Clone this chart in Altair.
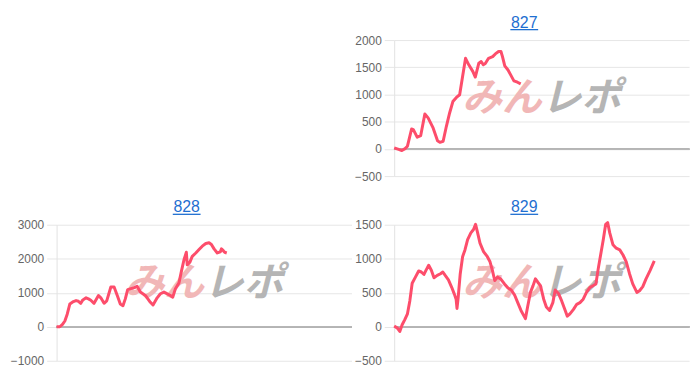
import altair as alt
import pandas as pd

# ---- data ----
x827 = [0, 1.5, 2.6, 3.7, 4.5, 5.9, 6.5, 7.8, 9.0, 10.4, 11.5, 13.2, 14.7, 15.5, 16.6, 17.7,
        18.8, 19.9, 21.1, 22.2, 23.1, 24.2, 25.3, 26.7, 27.5, 28.7, 29.5, 30.2, 30.9, 32.0,
        33.4, 34.3, 35.4, 36.2, 36.7, 37.5, 38.6, 39.5, 40.6, 41.8, 42.9]
y827 = [20, -10, -30, 5, 50, 365, 355, 215, 245, 640, 570, 385, 150, 120, 140, 415,
        660, 870, 945, 995, 1300, 1665, 1545, 1420, 1320, 1575, 1605, 1545, 1570, 1665,
        1695, 1745, 1790, 1790, 1700, 1525, 1450, 1360, 1250, 1225, 1195]

x828 = [0, 1.1, 2.0, 2.8, 3.6, 4.5, 5.7, 6.6, 7.4, 8.2, 8.9, 10.0, 10.8, 11.6, 12.7, 14.2,
        15.0, 16.1, 17.0, 18.4, 19.5, 20.7, 21.6, 22.5, 23.3, 24.1, 25.2, 26.4, 27.3, 28.4,
        30.1, 31.8, 32.7, 34.1, 35.2, 36.4, 37.7, 38.6, 39.4, 40.3, 41.5, 42.3, 43.2, 44.0,
        44.3, 45.2, 46.0, 47.2, 48.3, 49.4, 50.6, 51.7, 52.5, 53.4, 54.5, 55.5, 55.9, 56.6,
        57.0, 57.7]
y828 = [0, 0, 70, 170, 370, 670, 740, 770, 750, 690, 790, 850, 820, 780, 690, 920,
        850, 690, 760, 1170, 1170, 890, 670, 620, 820, 1090, 1120, 1150, 1190, 1020,
        920, 720, 640, 850, 970, 1020, 960, 920, 870, 1120, 1290, 1620, 1970, 2190,
        1820, 1900, 2070, 2170, 2270, 2370, 2450, 2470, 2420, 2290, 2170, 2200, 2290, 2230,
        2190, 2170]

x829 = [0, 1.1, 1.9, 2.7, 3.6, 4.5, 5.3, 6.1, 7.2, 8.3, 9.2, 10.1, 10.9, 11.7, 12.6, 13.5,
        14.6, 15.7, 16.5, 17.3, 18.4, 19.5, 20.4, 21.0, 21.3, 21.7, 22.4, 23.2, 24.0, 24.9,
        26.0, 26.9, 27.6, 28.3, 29.1, 30.3, 31.6, 32.5, 33.3, 34.1, 35.0, 36.1, 37.4, 38.6,
        39.7, 40.8, 41.9, 43.0, 44.5, 45.3, 46.2, 47.1, 47.9, 48.7, 49.6, 50.7, 51.6, 52.7,
        53.8, 54.6, 55.7, 56.8, 58.0, 58.7, 59.6, 60.8, 61.9, 63.0, 64.1, 65.2, 66.4, 67.5,
        68.4, 69.2, 70.0, 70.9, 71.7, 72.4, 73.1, 74.2, 75.3, 76.5, 77.6, 78.7, 79.8, 80.9,
        82.3, 83.2, 84.3, 85.4, 86.8, 88.2]
y829 = [10, -20, -70, 30, 105, 190, 380, 640, 730, 820, 805, 770, 840, 905, 830, 720,
        755, 780, 805, 755, 690, 580, 480, 405, 270, 430, 780, 1030, 1130, 1280,
        1380, 1430, 1505, 1380, 1230, 1105, 1030, 955, 830, 680, 730, 705, 630, 570,
        540, 470, 355, 240, 120, 305, 505, 605, 705, 655, 605, 405, 290, 240,
        355, 540, 490, 380, 240, 155, 190, 255, 330, 355, 405, 505, 580, 605,
        630, 855, 1055, 1280, 1505, 1530, 1380, 1205, 1155, 1130, 1055, 955, 780, 630,
        505, 530, 590, 705, 830, 970]

titles = ["827", "828", "829"]
domains = [[-500, 2000], [-1000, 3000], [-500, 1500]]
ticks = [[-500, 0, 500, 1000, 1500, 2000],
         [-1000, 0, 1000, 2000, 3000],
         [-500, 0, 500, 1000, 1500]]

LINE = "#fd4d6b"
FONT = "Liberation Sans"
W, H = 297, 137


def panel(title, xs, ys, dom, tv, w=W, h=H):
    df = pd.DataFrame({"x": xs, "y": ys})
    base = alt.Chart(df)
    xs_ = alt.Scale(domain=[0, 100], nice=False, zero=False)
    ys_ = alt.Scale(domain=dom, nice=False, zero=False)
    yax = alt.Axis(values=tv, tickCount=20, format="d", labelOverlap=False,
                   grid=True, gridColor="#e6e6e6",
                   domainColor="#e2e2e2", tickColor="#e6e6e6",
                   tickSize=10, labelPadding=3, labelColor="#666666",
                   labelFontSize=12, labelFont=FONT)
    zero = base.mark_rule(color="#b5b5b5", strokeWidth=1).encode(
        y=alt.datum(0), x=alt.value(0), x2=alt.value(w))
    wm1 = alt.Chart(pd.DataFrame({"t": ["みん"]})).mark_text(
        font="Noto Sans CJK JP", fontSize=40, fontWeight="bold", fontStyle="italic",
        color="#f1b7b7", align="right", baseline="middle").encode(
        text="t:N", x=alt.value(w / 2), y=alt.value(h / 2 - 9))
    wm2 = alt.Chart(pd.DataFrame({"t": ["レポ"]})).mark_text(
        font="Noto Sans CJK JP", fontSize=40, fontWeight="bold", fontStyle="italic",
        color="#b5b5b5", align="left", baseline="middle").encode(
        text="t:N", x=alt.value(w / 2), y=alt.value(h / 2 - 9))
    line = base.mark_line(color=LINE, strokeWidth=3, strokeJoin="round").encode(
        x=alt.X("x:Q", scale=xs_, axis=None),
        y=alt.Y("y:Q", scale=ys_, title=None, axis=yax))
    ttl = alt.Chart(pd.DataFrame({"t": [title]})).mark_text(
        font=FONT, fontSize=16, color="#1f6fd1", align="center", baseline="alphabetic").encode(
        text="t:N", x=alt.value(131), y=alt.value(-12.5))
    und = alt.Chart(pd.DataFrame({"t": [title]})).mark_rule(color="#1f6fd1", strokeWidth=1.3).encode(
        x=alt.value(117), x2=alt.value(145), y=alt.value(-10.5))
    return alt.layer(zero, wm1, wm2, line, ttl, und).properties(width=w, height=h)


blank = alt.Chart(pd.DataFrame({"a": [0]})).mark_point(opacity=0).encode(
    x=alt.value(0), y=alt.value(0)).properties(width=W, height=H)

p827 = panel(titles[0], x827, y827, domains[0], ticks[0])
p828 = panel(titles[1], x828, y828, domains[1], ticks[1])
p829 = panel(titles[2], x829, y829, domains[2], ticks[2])

chart = alt.concat(blank, p827, p828, p829, columns=2,
                   spacing={"row": 49, "column": 43}, bounds="flush").properties(
    padding={"left": 9, "top": 13, "right": 10, "bottom": 8}
).configure(background="white").configure_view(stroke="transparent").configure_axis(
    labelOverlap=False)

chart.save("out.html", embed_options={"renderer": "svg", "actions": False})
